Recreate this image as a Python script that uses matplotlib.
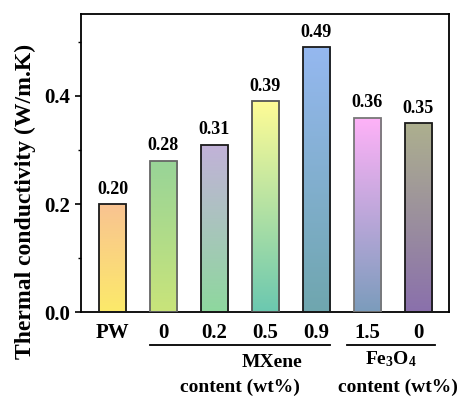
import numpy as np
import matplotlib
matplotlib.use('Agg')
import matplotlib.pyplot as plt
from matplotlib.colors import LinearSegmentedColormap

plt.rcParams['font.family'] = ['Liberation Serif', 'DejaVu Serif']
plt.rcParams['font.weight'] = 'bold'
plt.rcParams['mathtext.default'] = 'regular'

# data
labels = ['PW', '0', '0.2', '0.5', '0.9', '1.5', '0']
values = [0.20, 0.28, 0.31, 0.39, 0.49, 0.36, 0.35]
value_text = ['0.20', '0.28', '0.31', '0.39', '0.49', '0.36', '0.35']

# gradient colours per bar (top, bottom)
top_colors = ['#F9C392', '#98D498', '#C2B2D9', '#FFFC96', '#95B8F0', '#FFB2F8', '#ADB08E']
bottom_colors = ['#FCEA6A', '#C9E47A', '#8ED89E', '#6BC8B0', '#6FA6AE', '#7B9CBC', '#8A70AC']
edge_colors = ['#1a1a1a', '#666666', '#1a1a1a', '#555555', '#1a1a1a', '#777777', '#1a1a1a']

fig = plt.figure(figsize=(4.62, 3.97), dpi=100)
ax = fig.add_axes([0.175, 0.214, 0.797, 0.751])

x = np.arange(len(values))
width = 0.53
bars = ax.bar(x, values, width=width, color='none', edgecolor=edge_colors, linewidth=1.3, zorder=3)

# fill each bar with a vertical gradient
grad = np.linspace(0, 1, 256).reshape(-1, 1)
for i, b in enumerate(bars):
    cmap = LinearSegmentedColormap.from_list('g%d' % i, [bottom_colors[i], top_colors[i]])
    x0 = b.get_x()
    im = ax.imshow(grad, cmap=cmap, origin='lower', aspect='auto',
                   extent=[x0, x0 + width, 0, b.get_height()], zorder=2)
    im.set_clip_path(b)

for xi, v, t in zip(x, values, value_text):
    ax.text(xi, v + 0.012, t, ha='center', va='bottom', fontsize=13, fontweight='bold')

ax.set_xlim(-0.62, 6.6)
ax.set_ylim(0, 0.552)
ax.set_yticks([0.0, 0.2, 0.4])
ax.set_yticks([0.1, 0.3, 0.5], minor=True)
ax.set_yticklabels(['0.0', '0.2', '0.4'])
ax.set_xticks(x)
ax.set_xticklabels(labels)
ax.tick_params(axis='x', length=0, labelsize=15, pad=8)
ax.tick_params(axis='y', which='major', length=4, width=1.2, labelsize=15)
ax.tick_params(axis='y', which='minor', length=2.5, width=1.0)
for s in ax.spines.values():
    s.set_linewidth(1.3)

ax.set_ylabel('Thermal conductivity (W/m.K)', fontsize=17, fontweight='bold')
ax.yaxis.set_label_coords(-0.122, 0.37)

# group labels under the ticks
tr = ax.get_xaxis_transform()
ax.plot([0.74, 4.26], [-0.111, -0.111], transform=tr, color='black', lw=1.3, clip_on=False)
ax.plot([4.6, 6.32], [-0.111, -0.111], transform=tr, color='black', lw=1.3, clip_on=False)
ax.text(3.13, -0.168, 'MXene', transform=tr, ha='center', va='center', fontsize=14, fontweight='bold')
ax.text(2.5, -0.252, 'content (wt%)', transform=tr, ha='center', va='center', fontsize=14, fontweight='bold')
ax.text(5.46, -0.158, r'$\mathregular{Fe_3O_4}$', transform=tr, ha='center', va='center', fontsize=14, fontweight='bold')
ax.text(5.6, -0.252, 'content (wt%)', transform=tr, ha='center', va='center', fontsize=14, fontweight='bold')

fig.savefig('out.png', dpi=100)
